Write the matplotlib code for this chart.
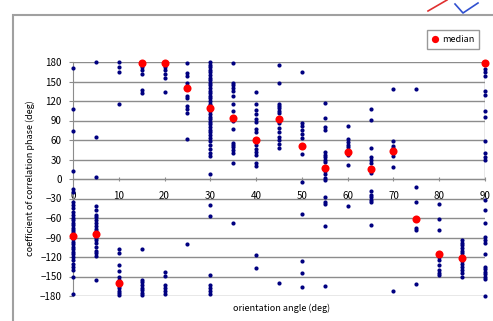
import matplotlib
matplotlib.use("Agg")
import matplotlib.pyplot as plt
from matplotlib.patches import Rectangle
from matplotlib.lines import Line2D

plt.rcParams['font.family'] = ['Noto Sans CJK JP', 'DejaVu Sans']

# phase values (deg) read per orientation angle column
p00 = [171, 107, 74, 12, -15, -20, -35, -40, -45, -50, -55, -60, -63, -67, -70, -75,
       -78, -82, -86, -90, -93, -97, -100, -104, -108, -112, -116, -120, -125, -130,
       -135, -140, -150, -177]
p05 = [180, 65, 3, -42, -48, -55, -58, -63, -68, -72, -77, -80, -85, -90, -94, -98,
       -105, -110, -114, -118, -155]
p10 = [180, 173, 165, 115, -108, -114, -133, -142, -150, -155, -160, -164, -168,
       -172, -176, -179]
p15 = [180, 173, 167, 161, 137, 132, -108, -155, -159, -163, -167, -171, -175, -179]
p20 = [180, 173, 168, 162, 156, 134, -143, -149, -163, -168, -172, -177]
p25 = [179, 163, 158, 148, 128, 124, 112, 107, 102, 61, -100]
p30 = [180, 176, 172, 168, 164, 160, 156, 152, 148, 144, 140, 136, 132, 128, 124,
       120, 116, 112, 108, 104, 100, 96, 92, 88, 84, 80, 76, 72, 68, 63, 58, 52, 46,
       40, 35, 7, -40, -57, -147, -163, -168, -172, -177]
p35 = [178, 148, 144, 140, 136, 128, 116, 104, 89, 77, 56, 52, 49, 44, 40, 25, -68]
p40 = [134, 116, 106, 100, 93, 87, 77, 73, 53, 46, 42, 37, 25, 20, -117, -137]
p45 = [176, 148, 116, 112, 109, 104, 101, 86, 78, 72, 65, 60, 54, 48, -160]
p50 = [165, 86, 81, 75, 70, 63, 39, -5, -54, -126, -145, -166]
p55 = [117, 94, 80, 75, 41, 37, 34, 30, 26, 12, 7, 2, -1, -27, -35, -39, -72, -164]
p60 = [81, 61, 57, 53, 50, 37, 21, -41]
p65 = [107, 91, 47, 34, 30, 25, 10, -18, -24, -28, -32, -35, -70]
p70 = [138, 59, 51, 48, 36, 18, -173]
p75 = [138, -13, -35, -75, -79, -161]
p80 = [-38, -62, -78, -120, -125, -133, -140, -144, -148]
p85 = [-94, -98, -102, -106, -110, -114, -118, -126, -130, -135, -140, -145, -150]
p90 = [169, 164, 158, 135, 130, 105, 95, 59, 40, 34, 30, -33, -47, -68, -89, -94,
       -99, -115, -135, -139, -143, -146, -150, -154, -180]

angles = [0, 5, 10, 15, 20, 25, 30, 35, 40, 45, 50, 55, 60, 65, 70, 75, 80, 85, 90]
columns = [p00, p05, p10, p15, p20, p25, p30, p35, p40, p45, p50, p55, p60, p65,
           p70, p75, p80, p85, p90]
median_phase = [-88, -85, -160, 179, 179, 140, 109, 94, 60, 92, 51, 17, 42, 16, 43,
                -62, -115, -121, 178]

x_ticks = [0, 10, 20, 30, 40, 50, 60, 70, 80, 90]
y_ticks = [-180, -150, -120, -90, -60, -30, 0, 30, 60, 90, 120, 150, 180]

fig = plt.figure(figsize=(4.93, 3.21), dpi=100)
W, H = 493, 321

# outer chart frame (runs off the right/bottom edge)
fig.patches.append(Rectangle((13 / W, -0.1), 1.2, 1 - 15 / H + 0.1,
                             transform=fig.transFigure, fill=False,
                             edgecolor='#a0a0a0', lw=1.5))
# corner of the icon at the top right
fig.lines.append(Line2D([428 / W, 447 / W], [1 - 11 / H, 1 - 0 / H],
                        transform=fig.transFigure, color='#e03030', lw=1.2))
fig.lines.append(Line2D([455 / W, 463 / W, 478 / W], [1 - 4 / H, 1 - 13 / H, 1 - 3 / H],
                        transform=fig.transFigure, color='#3050d0', lw=1.2))

ax = fig.add_axes([73 / W, 1 - 296 / H, 412 / W, 234 / H])

for a, col in zip(angles, columns):
    ax.plot([a] * len(col), col, 'o', color='#000080', markersize=3.0,
            markeredgewidth=0, zorder=3, clip_on=False)
ax.plot(angles, median_phase, 'o', color='#ff0000', markersize=5.8,
        markeredgewidth=0, zorder=4, clip_on=False, label='median')

ax.set_xlim(0, 90)
ax.set_ylim(-180, 180)
ax.set_xticks(x_ticks)
ax.set_yticks(y_ticks)
ax.yaxis.grid(True, color='#8c8c8c', lw=1)
ax.set_axisbelow(True)

for s in ['top', 'right']:
    ax.spines[s].set_visible(False)
ax.spines['bottom'].set_position(('data', 0))
ax.spines['bottom'].set_color('#8c8c8c')
ax.spines['left'].set_color('#8c8c8c')
ax.plot([90, 90], [0, 180], color='#8c8c8c', lw=1, zorder=1)

ax.tick_params(axis='x', direction='inout', length=3, color='#8c8c8c',
               labelsize=7, pad=7)
ax.tick_params(axis='y', direction='out', length=3, color='#8c8c8c',
               labelsize=7, pad=5)

fig.text(30 / W, 1 - 178 / H, 'coefficient of correlation phase (deg)',
         rotation=90, ha='center', va='center', fontsize=6.5)
fig.text(282 / W, 1 - 308 / H, 'orientation angle (deg)',
         ha='center', va='center', fontsize=6.5)

leg = ax.legend(loc='upper right', bbox_to_anchor=(484 / W, 1 - 25 / H),
                bbox_transform=fig.transFigure, fontsize=6.5, frameon=True,
                fancybox=False, handlelength=0.6, handletextpad=0.4,
                borderpad=0.6, markerscale=0.9)
leg.get_frame().set_edgecolor('#808080')
leg.get_frame().set_linewidth(1)

fig.savefig('out.png', dpi=100)
